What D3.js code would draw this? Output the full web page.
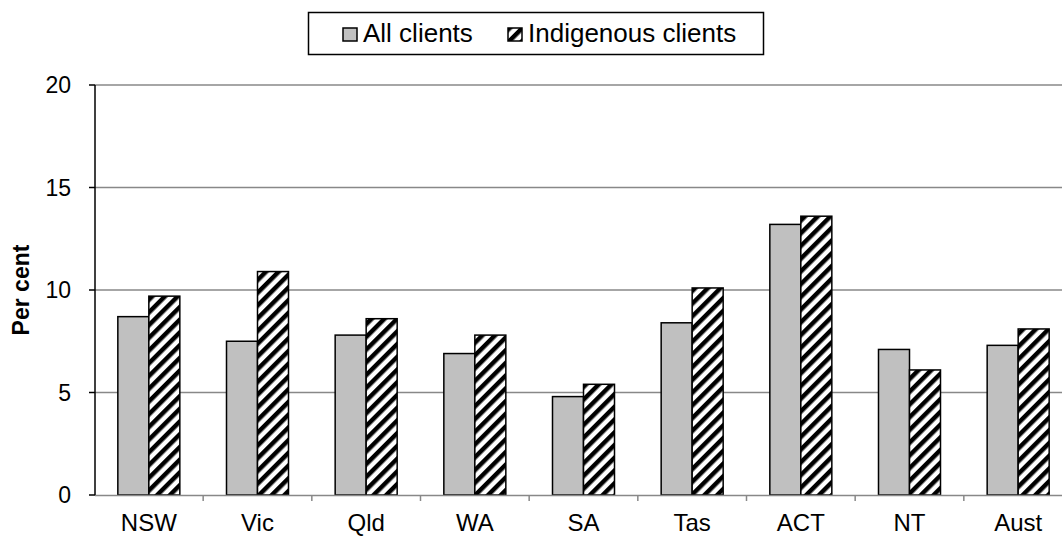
<!DOCTYPE html>
<head>
  <meta charset="utf-8">
  <script src="https://d3js.org/d3.v7.min.js"></script>
  <style>
    body { margin:0; background:#fff; }
    text { font-family: Arial, "Liberation Sans", sans-serif; }
  </style>
</head>
<body>
<script>
var states = ["NSW", "Vic", "Qld", "WA", "SA", "Tas", "ACT", "NT", "Aust"];
var allClients = [8.7, 7.5, 7.8, 6.9, 4.8, 8.4, 13.2, 7.1, 7.3];
var indigenous = [9.7, 10.9, 8.6, 7.8, 5.4, 10.1, 13.6, 6.1, 8.1];
var yTicks = [0, 5, 10, 15, 20];
var seriesNames = ["All clients", "Indigenous clients"];

var svg = d3.select("body").append("svg")
  .attr("width", 1062)
  .attr("height", 538);

// hatch pattern
var pat = svg.append("defs").append("pattern")
  .attr("id", "hatch")
  .attr("patternUnits", "userSpaceOnUse")
  .attr("width", 9).attr("height", 9)
  .attr("patternTransform", "rotate(45)");
pat.append("rect").attr("width", 9).attr("height", 9).attr("fill", "#fff");
pat.append("rect").attr("x", 0).attr("width", 4.5).attr("height", 9).attr("fill", "#000");

var x = d3.scaleBand().domain(states).range([94.5, 1072.5]);
var y = d3.scaleLinear().domain([0, 20]).range([495, 85]);

// gridlines
svg.selectAll(".grid").data(yTicks.slice(1))
  .enter().append("line")
  .attr("x1", 95).attr("x2", 1062)
  .attr("y1", function(d){ return y(d) }).attr("y2", function(d){ return y(d) })
  .attr("stroke", "#888").attr("stroke-width", 1.5);

var barW = 31;
var rows = states.map(function(s, i){ return {s: s, a: allClients[i], b: indigenous[i]} });

svg.selectAll(".barA").data(rows).enter().append("rect")
  .attr("x", function(d){ return x(d.s) + x.bandwidth()/2 - barW })
  .attr("y", function(d){ return y(d.a) })
  .attr("width", barW)
  .attr("height", function(d){ return y(0) - y(d.a) })
  .attr("fill", "#c0c0c0").attr("stroke", "#000").attr("stroke-width", 1.5);

svg.selectAll(".barB").data(rows).enter().append("rect")
  .attr("x", function(d){ return x(d.s) + x.bandwidth()/2 })
  .attr("y", function(d){ return y(d.b) })
  .attr("width", barW)
  .attr("height", function(d){ return y(0) - y(d.b) })
  .attr("fill", "url(#hatch)").attr("stroke", "#000").attr("stroke-width", 1.5);

// x axis
svg.append("line").attr("x1", 95).attr("x2", 1062).attr("y1", 495.5).attr("y2", 495.5)
  .attr("stroke", "#888").attr("stroke-width", 1.5);
svg.selectAll(".xt").data(states.slice(1)).enter().append("line")
  .attr("x1", function(d){ return x(d) }).attr("x2", function(d){ return x(d) })
  .attr("y1", 495).attr("y2", 501)
  .attr("stroke", "#888").attr("stroke-width", 1.5);
svg.selectAll(".xl").data(states).enter().append("text")
  .attr("x", function(d){ return x(d) + x.bandwidth()/2 })
  .attr("y", 531)
  .attr("text-anchor", "middle")
  .attr("font-size", 24)
  .text(function(d){ return d });

// y axis
svg.append("line").attr("x1", 95).attr("x2", 95).attr("y1", 85).attr("y2", 495)
  .attr("stroke", "#000").attr("stroke-width", 1.5);
svg.selectAll(".yt").data(yTicks).enter().append("line")
  .attr("x1", 89).attr("x2", 95)
  .attr("y1", function(d){ return y(d) }).attr("y2", function(d){ return y(d) })
  .attr("stroke", "#000").attr("stroke-width", 1.5);
svg.selectAll(".yl").data(yTicks).enter().append("text")
  .attr("x", 71)
  .attr("y", function(d){ return y(d) + 8 })
  .attr("text-anchor", "end")
  .attr("font-size", 23)
  .text(function(d){ return d });

svg.append("text")
  .attr("transform", "translate(29,290) rotate(-90)")
  .attr("text-anchor", "middle")
  .attr("font-size", 23)
  .attr("font-weight", "bold")
  .text("Per cent");

// legend
var lg = svg.append("g");
lg.append("rect").attr("x", 308.5).attr("y", 12.5).attr("width", 455).attr("height", 42)
  .attr("fill", "#fff").attr("stroke", "#000").attr("stroke-width", 1.5);
var lx = [343, 508];
var fills = ["#c0c0c0", "url(#hatch)"];
seriesNames.forEach(function(n, i){
  lg.append("rect").attr("x", lx[i]).attr("y", 28).attr("width", 14).attr("height", 13)
    .attr("fill", fills[i]).attr("stroke", "#000").attr("stroke-width", 1.5);
  lg.append("text").attr("x", lx[i] + 20).attr("y", 42)
    .attr("font-size", 26).text(n);
});
</script>
</body>
